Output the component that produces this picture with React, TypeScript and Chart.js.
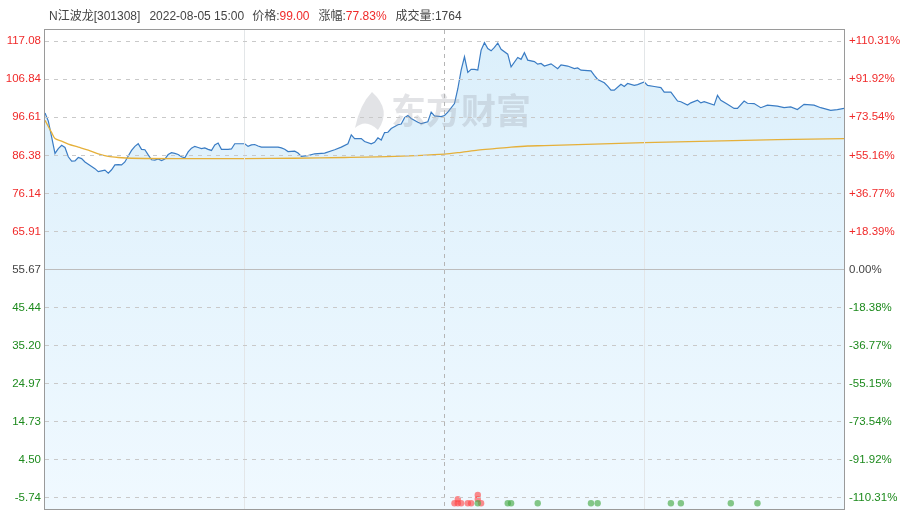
import React, { useEffect, useRef } from "react";
import { Chart, registerables } from "chart.js";

Chart.register(...registerables);

// ---- data ----
const prevClose = 55.67;
const leftTickValues = [117.08, 106.84, 96.61, 86.38, 76.14, 65.91, 55.67, 45.44, 35.2, 24.97, 14.73, 4.5, -5.74];
const leftTickLabels = ["117.08", "106.84", "96.61", "86.38", "76.14", "65.91", "55.67", "45.44", "35.20", "24.97", "14.73", "4.50", "-5.74"];
const rightTickLabels = ["+110.31%", "+91.92%", "+73.54%", "+55.16%", "+36.77%", "+18.39%", "0.00%", "-18.38%", "-36.77%", "-55.15%", "-73.54%", "-91.92%", "-110.31%"];
const yMin = -8.76;
const yMax = 120.1;
const sessionMarks = [0, 60, 120, 180, 240];

const priceTimes = [
  0, 1, 2, 3, 4, 5, 6, 7, 8, 9, 10, 11, 12, 13, 14, 15, 16, 17, 18, 19, 20, 21, 22, 23, 24, 25, 26, 27, 28, 29,
  30, 31, 32, 33, 34, 35, 36, 37, 38, 39, 40, 41, 42, 43, 44, 45, 46, 47, 48, 49, 50, 51, 52, 53, 54, 55, 56, 57,
  60, 61, 62, 63, 64, 65, 70, 71, 72, 73, 75, 76, 77, 79, 81, 84, 87, 89, 91, 92, 93, 95, 96, 98, 99, 100, 101,
  102, 103, 104, 106, 107, 108, 109, 110, 112, 113, 115, 116, 117, 119, 120, 121, 123, 124, 125, 126, 127, 128,
  129, 130, 131, 132, 133, 134, 135, 136, 137, 139, 140, 142, 143, 144, 145, 147, 148, 149, 150, 152, 154, 155,
  157, 159, 160, 161, 164, 165, 166, 168, 169, 170, 171, 173, 174, 175, 177, 178, 180, 181, 183, 185, 186, 188,
  190, 191, 193, 194, 196, 197, 198, 201, 202, 203, 205, 207, 208, 210, 211, 213, 215, 217, 220, 222, 224, 226,
  228, 231, 233, 236, 238, 240,
];
const priceValues = [
  97.8, 95.6, 91.3, 86.9, 88.2, 89.1, 88.5, 86.0, 84.8, 84.9, 85.8, 85.5, 84.6, 84.0, 83.4, 82.8, 82.0, 82.2, 82.4,
  81.6, 82.5, 83.8, 83.9, 83.8, 84.6, 86.2, 87.7, 88.8, 89.5, 88.0, 87.9, 86.5, 85.2, 85.1, 85.4, 85.0, 85.4, 86.6,
  87.1, 86.9, 86.6, 86.0, 85.7, 87.3, 88.3, 88.8, 88.5, 88.2, 88.4, 88.0, 87.7, 89.2, 89.7, 88.0, 88.0, 88.0, 88.1,
  89.5, 89.5, 88.8, 89.2, 89.3, 88.9, 88.6, 88.6, 88.4, 88.0, 87.4, 87.5, 87.0, 86.1, 86.3, 86.8, 87.0, 87.9, 88.6,
  89.5, 91.9, 90.9, 90.9, 90.1, 89.5, 89.9, 91.1, 90.5, 92.5, 92.6, 93.6, 94.6, 94.8, 96.5, 97.1, 96.3, 95.3, 94.9,
  95.4, 98.0, 97.0, 96.8, 97.1, 98.0, 100.3, 104.3, 109.3, 112.9, 108.7, 109.5, 109.5, 109.3, 114.7, 116.7, 115.1,
  114.5, 115.4, 116.6, 114.9, 113.6, 110.2, 112.7, 112.2, 114.0, 112.0, 111.6, 110.9, 111.1, 110.4, 111.0, 109.7,
  110.7, 110.4, 109.7, 109.9, 109.3, 109.1, 107.9, 106.8, 105.9, 105.0, 103.9, 103.9, 105.5, 104.9, 105.7, 105.2,
  105.4, 106.1, 105.2, 104.9, 104.6, 103.4, 103.4, 101.0, 100.8, 99.9, 100.5, 101.2, 100.5, 100.8, 99.9, 102.5,
  101.2, 100.1, 99.0, 99.0, 101.0, 100.4, 100.3, 99.2, 99.9, 99.6, 99.2, 99.4, 98.7, 100.1, 99.9, 99.2, 98.5, 98.7,
  99.0,
];

const avgTimes = [0, 2, 3, 5, 7, 10, 13, 16, 19, 22, 26, 40, 60, 75, 90, 105, 120, 125, 130, 135, 140, 145, 150, 165, 180, 200, 220, 240];
const avgValues = [95.8, 92.5, 90.9, 90.2, 89.4, 88.6, 87.8, 86.8, 86.1, 85.8, 85.6, 85.5, 85.5, 85.6, 85.8, 86.1, 86.7, 87.2, 87.8, 88.2, 88.6, 88.9, 89.0, 89.4, 89.8, 90.2, 90.6, 90.9];

const redDotTimes = [123, 124, 125, 127, 128, 131, 124, 130, 130];
const redDotLevels = [0, 0, 0, 0, 0, 0, 1, 1, 2];
const greenDotTimes = [130, 139, 140, 148, 164, 166, 188, 191, 206, 214];
const greenDotLevels = [0, 0, 0, 0, 0, 0, 0, 0, 0, 0];

const FONT = "'Liberation Sans', Arial, 'Noto Sans CJK SC', sans-serif";

const framePlugin = {
  id: "frameAndMark",
  afterDatasetsDraw(chart: any) {
    const { ctx } = chart;
    ctx.save();
    // watermark
    ctx.fillStyle = "rgba(150,155,165,0.28)";
    ctx.font = `bold 35px 'Noto Sans CJK SC', sans-serif`;
    ctx.textBaseline = "middle";
    ctx.textAlign = "left";
    ctx.fillText("东方财富", 391, 111);
    // simple flame logo
    ctx.beginPath();
    ctx.moveTo(372, 92);
    ctx.quadraticCurveTo(392, 110, 378, 130);
    ctx.quadraticCurveTo(366, 118, 355, 128);
    ctx.quadraticCurveTo(360, 104, 372, 92);
    ctx.fill();
    ctx.restore();
  },
  afterDraw(chart: any) {
    const { ctx, chartArea } = chart;
    ctx.save();
    ctx.strokeStyle = "#9a9a9a";
    ctx.lineWidth = 1;
    ctx.strokeRect(chartArea.left - 0.5, chartArea.top - 0.5, chartArea.right - chartArea.left + 1, chartArea.bottom - chartArea.top + 1);
    ctx.restore();
  },
};

const noPad = (s: any) => {
  s.paddingTop = 0;
  s.paddingBottom = 0;
  s.paddingLeft = 0;
  s.paddingRight = 0;
};

export default function App() {
  const ref = useRef<HTMLCanvasElement | null>(null);

  useEffect(() => {
    if (!ref.current) return;
    const isZero = (v: number) => Math.abs(v - prevClose) < 0.001;
    const tickColor = (i: number) => (i < 6 ? "#f02a2a" : i === 6 ? "#444" : "#1d8a1d");

    const chart = new Chart(ref.current, {
      type: "line",
      data: {
        datasets: [
          {
            label: "avg",
            data: avgTimes.map((t, i) => ({ x: t, y: avgValues[i] })),
            borderColor: "#e5b03a",
            borderWidth: 1.3,
            pointRadius: 0,
            fill: false,
            tension: 0.3,
            yAxisID: "y",
            order: 1,
          },
          {
            label: "price",
            data: priceTimes.map((t, i) => ({ x: t, y: priceValues[i] })),
            borderColor: "#3a7cc4",
            borderWidth: 1.2,
            pointRadius: 0,
            fill: "start",
            backgroundColor: (c: any) => {
              const area = c.chart.chartArea;
              if (!area) return "#e4f4fd";
              const g = c.chart.ctx.createLinearGradient(0, area.top, 0, area.bottom);
              g.addColorStop(0, "#dbeffb");
              g.addColorStop(1, "#f0f9ff");
              return g;
            },
            tension: 0,
            yAxisID: "y",
            order: 2,
          },
          {
            type: "scatter",
            label: "green",
            data: greenDotTimes.map((t, i) => ({ x: t, y: greenDotLevels[i] })),
            backgroundColor: "rgba(70,170,70,0.65)",
            borderWidth: 0,
            pointRadius: 3.2,
            yAxisID: "dots",
            order: 0,
          },
          {
            type: "scatter",
            label: "red",
            data: redDotTimes.map((t, i) => ({ x: t, y: redDotLevels[i] })),
            backgroundColor: "rgba(255,70,70,0.62)",
            borderWidth: 0,
            pointRadius: 3.2,
            yAxisID: "dots",
            order: 0,
          },
        ] as any,
      },
      options: {
        animation: false,
        responsive: false,
        maintainAspectRatio: false,
        layout: { padding: { top: 30, bottom: 7, left: 0, right: 0 } },
        plugins: { legend: { display: false }, tooltip: { enabled: false } },
        scales: {
          x: {
            type: "linear",
            min: 0,
            max: 240,
            afterBuildTicks: (s: any) => {
              s.ticks = sessionMarks.map((v) => ({ value: v }));
            },
            afterFit: (s: any) => {
              s.height = 0;
              noPad(s);
            },
            ticks: { display: false },
            grid: {
              z: 1,
              drawTicks: false,
              color: (c: any) => {
                const v = c.tick ? c.tick.value : -1;
                if (v === 120) return "#b5b5b5";
                if (v === 60 || v === 180) return "#e3e6e8";
                return "rgba(0,0,0,0)";
              },
            },
            border: {
              display: false,
              dash: (c: any) => (c.tick && c.tick.value === 120 ? [4, 4] : []),
            },
          },
          y: {
            position: "left",
            min: yMin,
            max: yMax,
            afterBuildTicks: (s: any) => {
              s.ticks = leftTickValues.map((v) => ({ value: v }));
            },
            afterFit: (s: any) => {
              s.width = 45;
              noPad(s);
            },
            ticks: {
              callback: (_v: any, i: number) => leftTickLabels[i],
              color: (c: any) => tickColor(c.index),
              font: { size: 11.5, family: FONT },
              padding: 4,
            },
            grid: {
              z: 1,
              drawTicks: false,
              color: (c: any) => (c.tick && isZero(c.tick.value) ? "#bdbdbd" : "#c9c9c9"),
            },
            border: {
              display: false,
              dash: (c: any) => (c.tick && isZero(c.tick.value) ? [] : [4, 5]),
            },
          },
          y2: {
            position: "right",
            min: yMin,
            max: yMax,
            afterBuildTicks: (s: any) => {
              s.ticks = leftTickValues.map((v) => ({ value: v }));
            },
            afterFit: (s: any) => {
              s.width = 60;
              noPad(s);
            },
            ticks: {
              callback: (_v: any, i: number) => rightTickLabels[i],
              color: (c: any) => tickColor(c.index),
              font: { size: 11.5, family: FONT },
              padding: 5,
            },
            grid: { display: false, drawTicks: false },
            border: { display: false },
          },
          dots: {
            display: false,
            min: -1.36,
            max: 112.8,
          },
        },
      } as any,
      plugins: [framePlugin],
    });
    return () => chart.destroy();
  }, []);

  const red = { color: "#f02a2a" };
  return (
    <div style={{ position: "fixed", left: 0, top: 0, width: 904, height: 516, background: "#fff", fontFamily: FONT }}>
      <div
        style={{
          position: "absolute",
          left: 49,
          top: 8,
          height: 16,
          lineHeight: "16px",
          fontSize: 12,
          color: "#444",
          whiteSpace: "pre",
        }}
      >
        <span>N江波龙[301308]</span>
        <span style={{ marginLeft: 9 }}>2022-08-05 15:00</span>
        <span style={{ marginLeft: 8 }}>价格:</span>
        <span style={red}>99.00</span>
        <span style={{ marginLeft: 9 }}>涨幅:</span>
        <span style={red}>77.83%</span>
        <span style={{ marginLeft: 9 }}>成交量:1764</span>
      </div>
      <canvas ref={ref} width={904} height={516} style={{ display: "block", width: 904, height: 516 }} />
    </div>
  );
}
